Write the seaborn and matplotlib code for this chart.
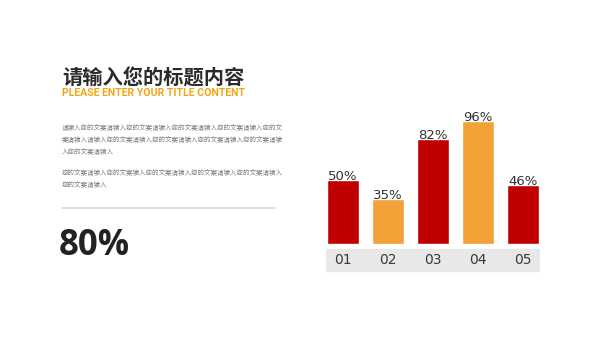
import matplotlib
matplotlib.use("Agg")
import matplotlib.pyplot as plt
import seaborn as sns
import pandas as pd

categories = ["01", "02", "03", "04", "05"]
values = [50, 35, 82, 96, 46]
value_labels = ["50%", "35%", "82%", "96%", "46%"]
bar_colors = ["#C00000", "#F2A236", "#C00000", "#F2A236", "#C00000"]

title = "请输入您的标题内容"
subtitle = "PLEASE ENTER YOUR TITLE CONTENT"
body_lines_1 = [
    "请输入您的文案请输入您的文案请输入您的文案请输入您的文案请输入您的文",
    "案请输入请输入您的文案请输入您的文案请输入您的文案请输入您的文案请输",
    "入您的文案请输入",
]
body_lines_2 = [
    "您的文案请输入您的文案输入您的文案请输入您的文案请输入您的文案请输入",
    "您的文案请输入",
]
big_number = "80%"

sns.set_theme(style="white")
plt.rcParams['font.family'] = ['Noto Sans CJK SC', 'DejaVu Sans']

W, H = 600, 338
fig = plt.figure(figsize=(6, 3.38), dpi=100)
fig.patch.set_facecolor("white")

def fx(px):
    return px / W

def fy(py):
    return 1 - py / H

# Text block
fig.text(fx(62), fy(78.5), title, fontsize=14.6, fontweight="bold", color="#2B2B2B",
         va="center", ha="left")
fig.text(fx(62), fy(93.5), subtitle, fontsize=7.6, fontweight="bold", color="#F2A516",
         va="center", ha="left", family=["Roboto", "DejaVu Sans"])
for i, line in enumerate(body_lines_1):
    fig.text(fx(62), fy(128 + 12 * i), line, fontsize=4.7, color="#7F7F7F",
             va="center", ha="left")
for i, line in enumerate(body_lines_2):
    fig.text(fx(62), fy(173 + 12 * i), line, fontsize=4.7, color="#7F7F7F",
             va="center", ha="left")
fig.add_artist(plt.Line2D([fx(62), fx(275)], [fy(208), fy(208)], color="#DADADA", lw=1.2))
fig.text(fx(59), fy(246), big_number, fontsize=25, fontweight="bold", color="#222222",
         va="center", ha="left", family=["Open Sans", "DejaVu Sans"])

# Bar chart
scale = 123 / 96.0  # px per unit
y0 = 244
bottom_px, top_px = 275, 100
ax = fig.add_axes([fx(326), fy(bottom_px), (540 - 326) / W, (bottom_px - top_px) / H])
ax.set_facecolor("none")

df = pd.DataFrame({"cat": categories, "val": values})
sns.barplot(data=df, x="cat", y="val", hue="cat", palette=bar_colors, width=0.711,
            legend=False, ax=ax, saturation=1)

ax.set_xlim(-17 / 45, 4 + 17 / 45)
ax.set_ylim(-(bottom_px - y0) / scale, (y0 - top_px) / scale)
ax.axhspan(-(271 - y0) / scale, -(249 - y0) / scale, color="#E8E8E8", zorder=0)

for i, c in enumerate(categories):
    ax.text(i, -(260 - y0) / scale, c, ha="center", va="center", fontsize=10,
            color="#3A3A3A", family=["DejaVu Sans"])
for i, (v, lab) in enumerate(zip(values, value_labels)):
    ax.text(i, v + 0.3, lab, ha="center", va="baseline", fontsize=9.5, color="#333333",
            family=["DejaVu Sans"], zorder=5)

ax.set_xticks([])
ax.set_yticks([])
ax.set_xlabel("")
ax.set_ylabel("")
for s in ax.spines.values():
    s.set_visible(False)

fig.savefig("out.png", dpi=100, facecolor="white")
